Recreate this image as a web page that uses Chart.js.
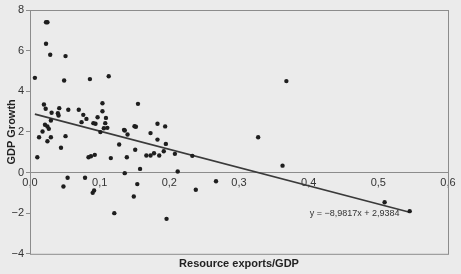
<!DOCTYPE html>
<html>
<head>
<meta charset="utf-8">
<script src="https://cdn.jsdelivr.net/npm/chart.js@4.4.1/dist/chart.umd.min.js"></script>
<style>
  html, body { margin: 0; padding: 0; background: #ebebeb; }
  #wrap { width: 461px; height: 274px; position: relative; }
</style>
</head>
<body>
<div id="wrap"><canvas id="chart"></canvas></div>
<script>
// values
const resourceExports = [
  0.023, 0.025, 0.023, 0.029, 0.051, 0.007, 0.049, 0.086, 0.113, 0.368,
  0.020, 0.0225, 0.031, 0.040, 0.042, 0.041, 0.055, 0.070, 0.0765, 0.081,
  0.074, 0.097, 0.091, 0.094, 0.104, 0.104, 0.109, 0.106, 0.111, 0.101,
  0.030, 0.0215, 0.025, 0.027, 0.018, 0.013, 0.030, 0.025, 0.051, 0.0445,
  0.0105, 0.084, 0.0875, 0.093, 0.054, 0.048, 0.079, 0.090, 0.092, 0.121,
  0.136, 0.149, 0.154, 0.196, 0.212, 0.238, 0.267, 0.208, 0.233, 0.3625,
  0.3275, 0.136, 0.140, 0.173, 0.183, 0.195, 0.128, 0.116, 0.139, 0.151,
  0.158, 0.167, 0.173, 0.178, 0.1855, 0.192, 0.155, 0.108, 0.150, 0.152,
  0.135, 0.183, 0.194, 0.509, 0.545
];
const gdpGrowth = [
  7.40, 7.40, 6.34, 5.80, 5.73, 4.66, 4.53, 4.60, 4.74, 4.50,
  3.35, 3.14, 2.94, 2.92, 3.17, 2.81, 3.09, 3.09, 2.84, 2.64,
  2.48, 2.72, 2.43, 2.40, 3.41, 3.02, 2.69, 2.18, 2.20, 1.99,
  2.56, 2.35, 2.27, 2.15, 2.02, 1.74, 1.74, 1.54, 1.79, 1.22,
  0.75, 0.75, 0.80, 0.87, -0.26, -0.69, -0.26, -1.00, -0.88, -2.00,
  -0.03, -1.18, -0.57, -2.28, 0.05, -0.85, -0.43, 0.92, 0.82, 0.34,
  1.74, 2.07, 1.87, 1.94, 1.62, 1.41, 1.38, 0.71, 0.75, 1.12,
  0.18, 0.84, 0.84, 0.95, 0.84, 1.05, 3.38, 2.43, 2.28, 2.25,
  2.10, 2.40, 2.27, -1.46, -1.90
];

// linear trend as printed on the chart
const trendSlope = -8.9817;
const trendIntercept = 2.9384;
const trendLabel = 'y = \u22128,9817x + 2,9384';

const xTitle = 'Resource exports/GDP';
const yTitle = 'GDP Growth';

const points = resourceExports.map((x, i) => ({ x: x, y: gdpGrowth[i] }));
const xMin = Math.min(...resourceExports);
const xMax = Math.max(...resourceExports);
const trendPoints = [xMin, xMax].map(x => ({ x: x, y: trendSlope * x + trendIntercept }));

const FONT = "'Liberation Sans', Arial, sans-serif";

const paperPlugin = {
  id: 'paper',
  beforeDraw(chart) {
    const ctx = chart.ctx;
    ctx.save();
    ctx.fillStyle = '#ebebeb';
    ctx.fillRect(0, 0, chart.width, chart.height);
    ctx.restore();
  },
  beforeDatasetsDraw(chart) {
    const { ctx, chartArea } = chart;
    ctx.save();
    ctx.strokeStyle = '#8c8c8c';
    ctx.lineWidth = 1;
    ctx.strokeRect(chartArea.left + 0.5, chartArea.top + 0.5,
      chartArea.right - chartArea.left, chartArea.bottom - chartArea.top);
    ctx.restore();
  },
  afterDatasetsDraw(chart) {
    const { ctx, scales } = chart;
    ctx.save();
    ctx.font = '9px ' + FONT;
    ctx.fillStyle = '#333';
    ctx.textAlign = 'center';
    ctx.textBaseline = 'middle';
    ctx.fillText(trendLabel, scales.x.getPixelForValue(0.466), scales.y.getPixelForValue(-2.02));
    ctx.restore();
  }
};

new Chart(document.getElementById('chart'), {
  type: 'scatter',
  data: {
    datasets: [
      {
        data: points,
        pointRadius: 2.2,
        pointBackgroundColor: '#1e1e1e',
        pointBorderWidth: 0
      },
      {
        type: 'line',
        data: trendPoints,
        borderColor: '#3a3a3a',
        borderWidth: 1.6,
        pointRadius: 0,
        fill: false
      }
    ]
  },
  options: {
    responsive: true,
    maintainAspectRatio: false,
    animation: false,
    layout: { padding: { top: 10, right: 13, left: 0, bottom: 0 } },
    plugins: {
      legend: { display: false },
      tooltip: { enabled: false },
      title: {
        display: true,
        text: xTitle,
        position: 'bottom',
        fullSize: false,
        color: '#222',
        font: { family: FONT, size: 11, weight: 'bold' },
        padding: { top: 4, bottom: 3 }
      }
    },
    scales: {
      x: {
        type: 'linear',
        position: { y: 0 },
        min: 0,
        max: 0.6,
        grid: { display: true, drawOnChartArea: false, drawTicks: false },
        border: { color: '#8c8c8c', width: 1 },
        ticks: {
          stepSize: 0.1,
          padding: 4,
          color: '#333',
          font: { family: FONT, size: 11 },
          callback: v => v.toFixed(1).replace('.', ',')
        },
        afterFit: s => { s.height = 0; }
      },
      y: {
        min: -4,
        max: 8,
        grid: { drawOnChartArea: false, drawTicks: true, tickLength: 4, color: '#8c8c8c' },
        border: { color: '#8c8c8c', width: 1 },
        ticks: {
          stepSize: 2,
          padding: 2,
          color: '#333',
          font: { family: FONT, size: 11 },
          callback: v => String(v).replace('-', '\u2212')
        },
        title: {
          display: true,
          text: yTitle,
          color: '#222',
          font: { family: FONT, size: 11, weight: 'bold' },
          padding: { top: 5, bottom: 0 }
        },
        afterFit: s => { s.width = 30; }
      }
    }
  },
  plugins: [paperPlugin]
});
</script>
</body>
</html>
